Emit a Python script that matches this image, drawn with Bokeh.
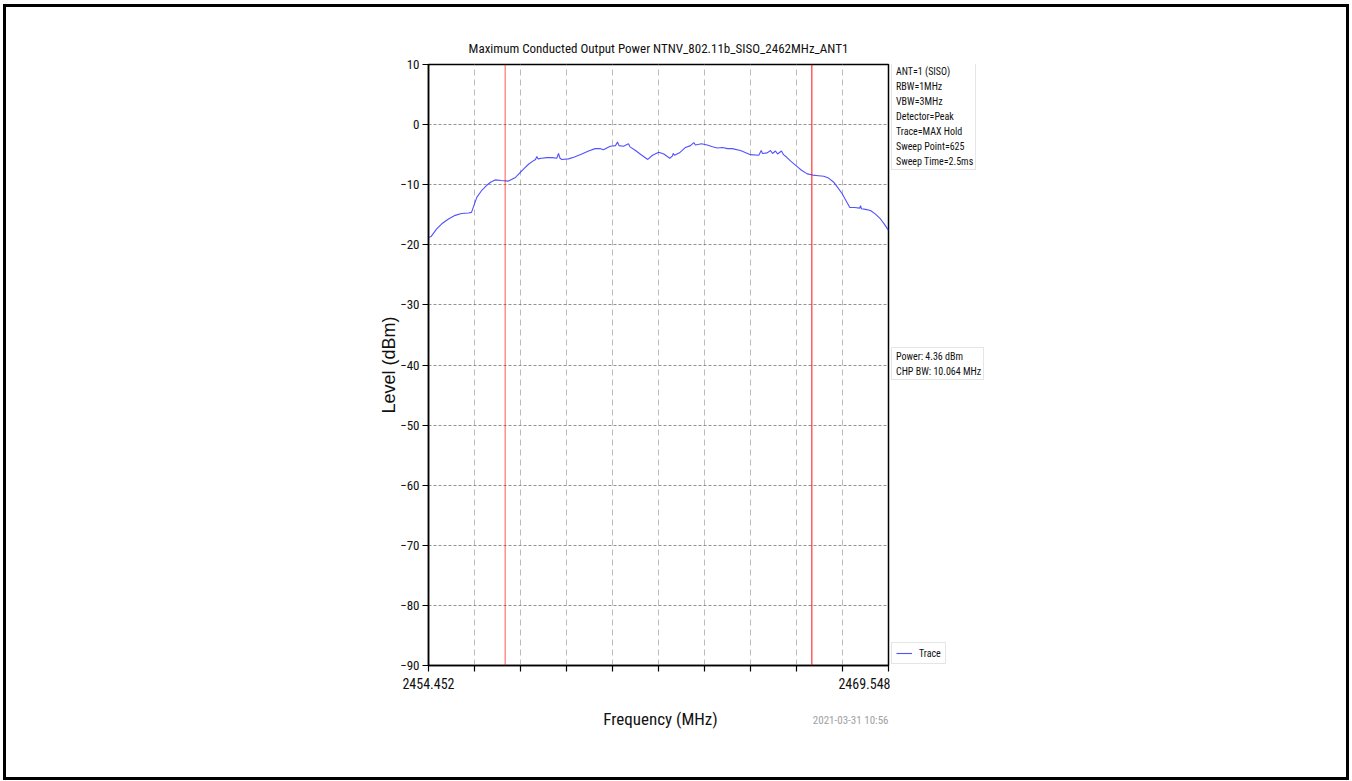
from bokeh.plotting import figure
from bokeh.layouts import row, column
from bokeh.models import Label, Legend, LegendItem, Span, FixedTicker, Range1d
from bokeh.embed import file_html
from bokeh.resources import INLINE

# ---------------- data ----------------
title_text = "Maximum Conducted Output Power NTNV_802.11b_SISO_2462MHz_ANT1"
freq_start = 2454.452
freq_stop = 2469.548
center_freq = 2462.0
chp_bw = 10.064
y_min, y_max = -90, 10

freq_mhz = [
    2454.452, 2454.541, 2454.715, 2454.888, 2455.108, 2455.328, 2455.535, 2455.765,
    2455.863, 2456.037, 2456.191, 2456.365, 2456.487, 2456.641, 2456.848, 2457.077,
    2457.307, 2457.570, 2457.734, 2457.898, 2457.964, 2458.006, 2458.045, 2458.160,
    2458.334, 2458.521, 2458.662, 2458.718, 2458.768, 2458.827, 2459.046, 2459.243,
    2459.483, 2459.703, 2459.923, 2460.097, 2460.195, 2460.415, 2460.589, 2460.655,
    2460.704, 2460.851, 2461.015, 2461.065, 2461.245, 2461.452, 2461.649, 2461.803,
    2462.010, 2462.174, 2462.371, 2462.460, 2462.482, 2462.525, 2462.689, 2462.886,
    2463.050, 2463.158, 2463.214, 2463.411, 2463.598, 2463.772, 2463.927, 2464.101,
    2464.265, 2464.418, 2464.691, 2465.019, 2465.292, 2465.371, 2465.413, 2465.568,
    2465.676, 2465.742, 2465.840, 2465.906, 2466.037, 2466.102, 2466.201, 2466.365,
    2466.552, 2466.693, 2466.880, 2467.064, 2467.251, 2467.425, 2467.579, 2467.753,
    2467.874, 2468.029, 2468.137, 2468.278, 2468.432, 2468.606, 2468.629, 2468.662,
    2468.793, 2468.957, 2469.121, 2469.285, 2469.417, 2469.548,
]
level_dbm = [
    -18.8, -18.6, -17.4, -16.5, -15.7, -15.1, -14.8, -14.7,
    -14.6, -12.1, -11.0, -10.1, -9.6, -9.2, -9.3, -9.4,
    -8.8, -7.4, -6.6, -6.0, -5.8, -5.3, -5.7, -5.6,
    -5.5, -5.5, -5.6, -4.8, -5.6, -5.8, -5.7, -5.4,
    -4.9, -4.4, -4.0, -4.0, -4.2, -3.6, -3.5, -2.9,
    -3.5, -3.6, -3.2, -3.7, -4.3, -5.1, -5.8, -5.1,
    -4.6, -4.9, -5.6, -5.2, -4.8, -5.1, -4.7, -3.8,
    -3.5, -3.0, -3.4, -3.2, -3.4, -3.7, -3.9, -3.8,
    -4.0, -4.0, -4.3, -5.0, -5.1, -4.3, -4.8, -4.7,
    -4.3, -4.8, -4.4, -4.9, -4.4, -5.0, -5.4, -6.2,
    -7.0, -7.6, -8.2, -8.4, -8.5, -8.6, -8.9, -9.6,
    -10.4, -11.5, -12.5, -13.8, -13.8, -13.9, -13.5, -14.0,
    -14.1, -14.3, -14.9, -15.7, -16.6, -17.6,
]
setting_lines = ["ANT=1 (SISO)", "RBW=1MHz", "VBW=3MHz", "Detector=Peak",
                 "Trace=MAX Hold", "Sweep Point=625", "Sweep Time=2.5ms"]
power_lines = ["Power: 4.36 dBm", "CHP BW: 10.064 MHz"]
timestamp = "2021-03-31 10:56"
x_label = "Frequency (MHz)"
y_label = "Level (dBm)"

NARROW = "'Roboto Condensed', 'Liberation Sans Narrow', 'Liberation Sans', sans-serif"
TXT = "#111111"

# ---------------- layout sizes ----------------
PW, TOPH = 884, 693          # main figure
L, T, FW, FH = 422, 57, 460, 601
SW = 456                     # side panel width
BH = 77                      # bottom strip height

# ---------------- main plot ----------------
p = figure(width=PW, height=TOPH, output_backend="svg", toolbar_location=None,
           x_range=Range1d(freq_start, freq_stop), y_range=Range1d(y_min, y_max),
           min_border_left=L, min_border_top=T,
           min_border_right=PW - L - FW, min_border_bottom=TOPH - T - FH)
p.background_fill_color = "white"
p.border_fill_color = "white"
p.outline_line_color = "black"
p.outline_line_width = 1.5

p.title.text = title_text
p.title.align = "center"
p.title.text_font = NARROW
p.title.text_font_size = "13px"
p.title.text_font_style = "normal"
p.title.text_color = TXT
p.title.standoff = 18

n_div = 10
step = (freq_stop - freq_start) / n_div
x_ticks = [round(freq_start + i * step, 4) for i in range(n_div + 1)]
x_ticks[0], x_ticks[-1] = freq_start, freq_stop
p.xaxis.ticker = FixedTicker(ticks=x_ticks)
x_over = {t: "" for t in x_ticks}
x_over[freq_start] = f"{freq_start:.3f}"
x_over[freq_stop] = f"{freq_stop:.3f}"
p.xaxis.major_label_overrides = x_over
y_ticks = list(range(y_min, y_max + 1, 10))
p.yaxis.ticker = FixedTicker(ticks=y_ticks)
p.yaxis.major_label_overrides = {t: str(t).replace("-", "\u2212") for t in y_ticks}

for ax in (p.xaxis, p.yaxis):
    ax.axis_line_color = "black"
    ax.axis_line_width = 1.5
    ax.major_tick_line_color = "black"
    ax.major_tick_line_width = 1.2
    ax.major_tick_out = 6
    ax.major_tick_in = 0
    ax.minor_tick_line_color = None
    ax.major_label_text_font = NARROW
    ax.major_label_text_color = TXT
p.xaxis.major_label_text_font_size = "14px"
p.yaxis.major_label_text_font_size = "13px"
p.xaxis.major_label_standoff = 6
p.yaxis.major_label_standoff = 3

p.yaxis.axis_label = y_label
p.yaxis.axis_label_text_font = "'Liberation Sans', Arial, sans-serif"
p.yaxis.axis_label_text_font_size = "18px"
p.yaxis.axis_label_text_font_style = "normal"
p.yaxis.axis_label_text_color = TXT
p.yaxis.axis_label_standoff = -2

p.xgrid.grid_line_color = "#bbbbbb"
p.xgrid.grid_line_dash = "6 4"
p.xgrid.grid_line_width = 1
p.ygrid.grid_line_color = "#777777"
p.ygrid.grid_line_dash = "3 2"
p.ygrid.grid_line_width = 0.8

for loc, alpha in ((center_freq - chp_bw / 2, 0.55), (center_freq + chp_bw / 2, 0.8)):
    p.add_layout(Span(location=loc, dimension="height", line_color="red",
                      line_width=1.2, line_alpha=alpha))

TRACE_STYLE = dict(line_color="#3333ff", line_width=1.1, line_alpha=0.85)
p.line(freq_mhz, level_dbm, **TRACE_STYLE)

# ---------------- right side panel (info boxes + legend) ----------------
# its frame is aligned with the main plot's frame by the row layout
s = figure(width=SW, height=TOPH, output_backend="svg", toolbar_location=None,
           x_range=Range1d(0, 1), y_range=Range1d(0, 1),
           x_axis_location=None, y_axis_location=None,
           min_border=0, min_border_left=0, min_border_right=0,
           min_border_top=0, min_border_bottom=0)
s.grid.visible = False
s.outline_line_color = None
s.background_fill_color = "white"
s.border_fill_color = "white"

nan = float("nan")
proxy_trace = s.line(x=[nan], y=[nan], **TRACE_STYLE)
proxy_text = s.line(x=[nan], y=[nan], line_alpha=0)

box_common = dict(label_text_font=NARROW, label_text_font_size="10px",
                  label_text_color=TXT, label_height=12, spacing=3, padding=2,
                  margin=0, border_line_color="#cccccc", border_line_width=1,
                  background_fill_color="white", background_fill_alpha=1.0)

settings_legend = Legend(items=[LegendItem(label=t, renderers=[proxy_text]) for t in setting_lines],
                         location=(1, FH - 106), glyph_width=0, glyph_height=10,
                         label_standoff=2, **box_common)
power_legend = Legend(items=[LegendItem(label=t, renderers=[proxy_text]) for t in power_lines],
                      location=(1, FH - 316), glyph_width=0, glyph_height=10,
                      label_standoff=2, **box_common)
trace_legend = Legend(items=[LegendItem(label="Trace", renderers=[proxy_trace])],
                      location=(1, 1), glyph_width=16, glyph_height=10,
                      label_standoff=7, **dict(box_common, padding=4))
for lg in (settings_legend, power_legend, trace_legend):
    s.add_layout(lg)

# ---------------- bottom strip (x label + timestamp) ----------------
b = figure(width=PW + SW, height=BH, output_backend="svg", toolbar_location=None,
           x_range=Range1d(0, 1), y_range=Range1d(0, 1),
           x_axis_location=None, y_axis_location=None,
           min_border=0, min_border_left=0, min_border_right=0,
           min_border_top=0, min_border_bottom=0)
b.grid.visible = False
b.outline_line_color = None
b.background_fill_color = "white"
b.border_fill_color = "white"
b.add_layout(Label(x=L + FW / 2 + 2, y=BH - 18, x_units="screen", y_units="screen",
                   text=x_label, text_font=NARROW, text_font_size="17px",
                   text_align="center", text_baseline="middle", text_color=TXT))
b.add_layout(Label(x=L + FW, y=BH - 20, x_units="screen", y_units="screen",
                   text=timestamp, text_font=NARROW, text_font_size="11px",
                   text_align="right", text_baseline="middle", text_color="#a0a0a0"))

page = column(row(p, s, spacing=0), b, spacing=0,
              styles={"border": "3px solid black", "margin-left": "3px", "margin-top": "4px"})

open("out.html", "w").write(file_html(page, INLINE))
